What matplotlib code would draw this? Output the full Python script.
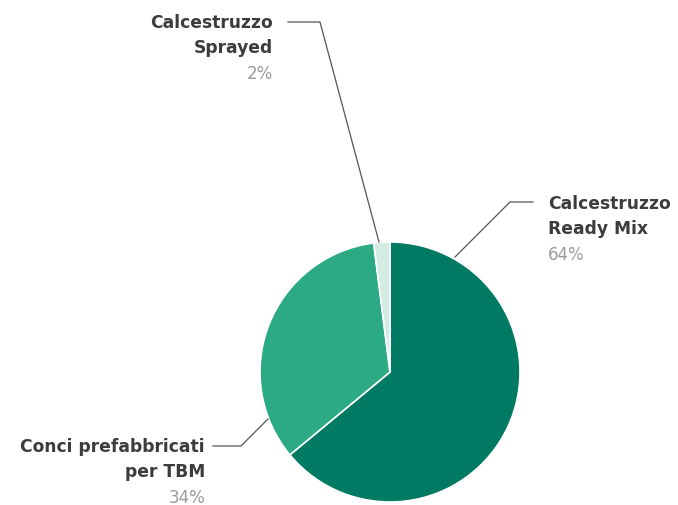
import numpy as np
import matplotlib.pyplot as plt

# data
labels = ['Calcestruzzo\nReady Mix', 'Conci prefabbricati\nper TBM', 'Calcestruzzo\nSprayed']
values = [64, 34, 2]
colors = ['#007A62', '#2BAA84', '#D3EBE0']

# layout (pixel coords, y from top)
W, H = 678, 506
cx, cy, r = 390, 373, 130
# text anchor, alignment, leader elbow, leader end
text_pos = [(548, 204, 'left'), (205, 447, 'right'), (273, 23, 'right')]
elbows = [((533, 203), (510, 203), (455, 258)),
          ((213, 447), (241, 447), (268, 420)),
          ((288, 23), (320, 23), (379, 243))]

fig = plt.figure(figsize=(W / 100, H / 100), dpi=100)
ax = fig.add_axes([0, 0, 1, 1])

ax.pie(values, colors=colors, startangle=90, counterclock=False,
       center=(cx, H - cy), radius=r, frame=True,
       wedgeprops=dict(edgecolor='white', linewidth=1.2))
ax.set_xlim(0, W)
ax.set_ylim(0, H)
ax.set_aspect('auto')
ax.axis('off')

font = 'DejaVu Sans'
for lab, val, (tx, ty, ha), pts in zip(labels, values, text_pos, elbows):
    xs = [p[0] for p in pts]
    ys = [H - p[1] for p in pts]
    ax.plot(xs, ys, color='#555555', lw=0.9)
    lines = lab.split('\n')
    for i, ln in enumerate(lines):
        ax.text(tx, H - (ty + 25 * i), ln, ha=ha, va='center', fontsize=12.3,
                fontweight='bold', color='#3C3C3C', family=font)
    ax.text(tx, H - (ty + 25 * len(lines) + 1), f'{val}%', ha=ha, va='center',
            fontsize=12, color='#9A9A9A', family=font)

fig.savefig('out.png', dpi=100)
